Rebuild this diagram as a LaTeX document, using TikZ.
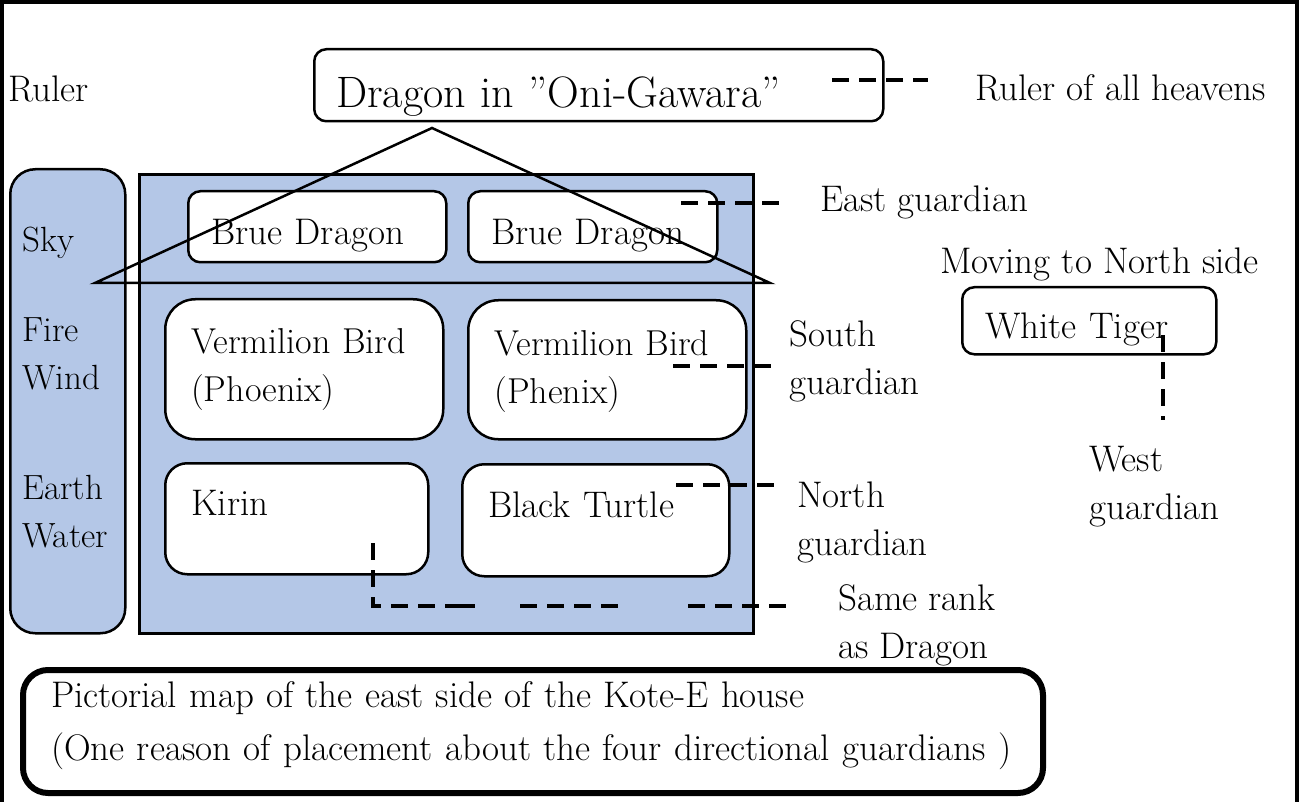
\documentclass[tikz,border=0pt]{standalone}
\usepackage{tikz}

\definecolor{skyblue}{RGB}{180,199,231}

\begin{document}
\begin{tikzpicture}[x=1pt, y=-1pt,
  every node/.style={font=\fontsize{37}{48}\selectfont},
  card/.style={draw, fill=white, line width=2.5pt, rounded corners=12pt,
    anchor=north west, align=left, inner ysep=0pt},
  tag/.style={anchor=north west, inner sep=0pt, align=left},
  guide/.style={line width=3.5pt, dash pattern=on 17pt off 10pt}]

  \useasboundingbox (0,0) rectangle (1309,802);

  % --- Frame ---
  \draw[line width=4pt] (2,802) -- (2,2) -- (1297,2) -- (1297,802);

  % --- Column of the elements ---
  \node[card, fill=skyblue, rounded corners=25pt, inner xsep=12pt,
    text width=91pt, text height=82pt, text depth=382pt,
    font=\fontsize{35}{48}\selectfont] (column) at (9,168)
    {Sky\\[42pt]Fire\\Wind\\[62pt]Earth\\Water};

  % --- House wall ---
  \node[draw, fill=skyblue, line width=3pt, anchor=north west, inner sep=0pt,
    minimum width=614pt, minimum height=459pt] (house) at (138,173) {};

  % --- Ruler on the roof ---
  \node[card, inner xsep=22pt, text width=525pt, text height=58pt, text depth=14pt,
    font=\fontsize{44}{48}\selectfont] (dragon) at (313,48) {Dragon in ”Oni-Gawara”};

  % --- Guardians ---
  \node[card, inner xsep=23pt, text width=212pt, text height=53pt, text depth=18pt]
    (blueleft) at (187,190) {Brue Dragon};
  \node[card, inner xsep=23pt, text width=203pt, text height=53pt, text depth=18pt]
    (blueright) at (467,190) {Brue Dragon};
  \node[card, rounded corners=30pt, inner xsep=26pt, text width=226pt,
    text height=54pt, text depth=86pt, font=\fontsize{36}{48}\selectfont]
    (birdleft) at (164,298) {Vermilion Bird\\(Phoenix)};
  \node[card, rounded corners=30pt, inner xsep=26pt, text width=226pt,
    text height=55pt, text depth=84pt, font=\fontsize{36}{48}\selectfont]
    (birdright) at (467,299) {Vermilion Bird\\(Phenix)};
  \node[card, rounded corners=22pt, inner xsep=26pt, text width=211pt,
    text height=52pt, text depth=59pt] (kirin) at (164,462) {Kirin};
  \node[card, rounded corners=22pt, inner xsep=26pt, text width=215pt,
    text height=53pt, text depth=59pt] (turtle) at (461,463) {Black Turtle};
  \node[card, inner xsep=23pt, text width=208pt, text height=51pt, text depth=16pt]
    (tiger) at (961,286) {White Tiger};

  % --- Roof ---
  \coordinate (apex) at (432,128);
  \draw[line width=2.5pt] (apex) -- (95,283) -- (770,283) -- cycle;

  % --- Labels ---
  \node[tag] (rulerlab) at (8,76) {Ruler};
  \node[tag] (heavenlab) at (975,74) {Ruler of all heavens};
  \node[tag] (eastlab) at (820,186) {East guardian};
  \node[tag] (movelab) at (940,248) {Moving to North side};
  \node[tag] (southlab) at (789,320) {South\\guardian};
  \node[tag] (northlab) at (797,482) {North\\guardian};
  \node[tag] (westlab) at (1089,446) {West\\guardian};
  \node[tag] (samelab) at (838,584) {Same rank\\as Dragon};

  % --- Caption ---
  \node[card, line width=6pt, rounded corners=25pt, inner xsep=28pt,
    text width=964pt, text height=37pt, text depth=86pt] (caption) at (20,667)
    {Pictorial map of the east side of the Kote-E house\\[5pt]
     (One reason of placement about the four directional guardians )};

  % --- Dashed guides ---
  \coordinate (dragonend) at (832,80);
  \coordinate (eastend) at (681,203);
  \coordinate (southend) at (673,366);
  \coordinate (northend) at (676,485);
  \coordinate (westend) at (1163,335);
  \coordinate (kirinend) at (373,543);
  \draw[guide, shorten >=47pt] (dragonend) -- (dragonend -| heavenlab.west);
  \draw[guide, shorten >=40pt] (eastend) -- (eastend -| eastlab.west);
  \draw[guide, shorten >=16pt] (southend) -- (southend -| southlab.west);
  \draw[guide, shorten >=22pt] (northend) -- (northend -| northlab.west);
  \draw[guide, shorten >=26pt] (westend) -- (westend |- westlab.north);
  \draw[guide, shorten >=50pt, dash pattern={on 17pt off 10pt on 17pt off 10pt
    on 17pt off 10pt on 17pt off 10pt on 17pt off 10pt on 30pt off 45pt
    on 17pt off 10pt on 17pt off 10pt on 17pt off 10pt on 17pt off 70pt
    on 17pt off 10pt on 17pt off 10pt on 17pt off 10pt on 17pt off 200pt}]
    (kirinend) |- ([yshift=-22pt]samelab.north west);

\end{tikzpicture}
\end{document}
